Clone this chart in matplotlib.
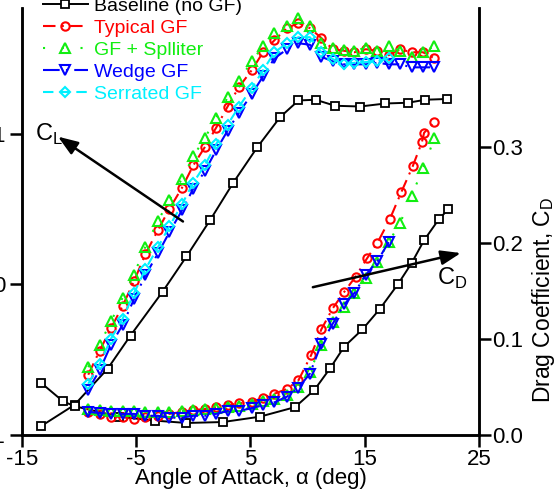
import matplotlib
matplotlib.use('Agg')
import matplotlib.pyplot as plt

plt.rcParams['font.family'] = 'Liberation Sans'
plt.rcParams['mathtext.fontset'] = 'custom'
plt.rcParams['mathtext.rm'] = 'Liberation Sans'
plt.rcParams['axes.unicode_minus'] = False

# baseline airfoil (no gurney flap)
alpha_base = [-13.3, -10.4, -7.5, -5.5, -2.7, -0.6, 1.5, 3.5, 5.6, 7.6, 9.2, 10.7,
              12.4, 14.6, 16.8, 18.8, 20.3, 22.2]
cl_base = [-0.94, -0.80, -0.56, -0.34, -0.05, 0.185, 0.43, 0.675, 0.91, 1.11, 1.22, 1.225,
           1.185, 1.18, 1.20, 1.205, 1.225, 1.23]
alpha_base_cd = [-13.3, -11.4, -10.4, -6.5, -3.4, -0.6, 2.6, 5.8, 8.9, 10.6, 12.0, 13.2,
                 14.8, 16.3, 17.9, 19.1, 20.2, 21.5, 22.3]
cd_base = [0.054, 0.035, 0.030, 0.019, 0.015, 0.0125, 0.0135, 0.019, 0.029, 0.047, 0.070, 0.092,
           0.110, 0.131, 0.157, 0.179, 0.203, 0.225, 0.235]

# gurney flap cases
alpha_gf = [-9.2, -8.2, -7.2, -6.2, -5.2, -4.2, -3.1, -2.1, -1.0, 0.0, 1.0, 2.0, 3.0, 4.0, 5.1,
            6.1, 7.1, 8.2, 9.2, 10.2, 11.2, 12.2, 13.2, 14.1, 15.1, 16.1, 17.1, 18.1, 19.1, 20.1, 21.1]

cl_typical = [-0.60, -0.44, -0.29, -0.145, 0.02, 0.20, 0.36, 0.50, 0.64, 0.79, 0.91, 1.04, 1.18,
              1.31, 1.42, 1.54, 1.62, 1.70, 1.735, 1.70, 1.635, 1.56, 1.55, 1.54, 1.56, 1.55,
              1.52, 1.56, 1.54, 1.54, 1.50]
cl_splitter = [-0.55, -0.40, -0.245, -0.09, 0.065, 0.25, 0.42, 0.56, 0.70, 0.85, 0.97, 1.105,
               1.24, 1.35, 1.48, 1.58, 1.67, 1.715, 1.77, 1.715, 1.60, 1.57, 1.556, 1.55, 1.57,
               1.55, 1.58, 1.55, 1.51, 1.54, 1.58]
cl_wedge = [-0.70, -0.57, -0.40, -0.27, -0.10, 0.06, 0.205, 0.345, 0.49, 0.635, 0.75, 0.89, 1.02,
            1.14, 1.26, 1.38, 1.50, 1.56, 1.60, 1.59, 1.51, 1.48, 1.46, 1.46, 1.46, 1.47, 1.46,
            1.46, 1.44, 1.44, 1.44]
cl_serrated = [-0.66, -0.53, -0.36, -0.23, -0.06, 0.10, 0.245, 0.385, 0.53, 0.675, 0.79, 0.93,
               1.06, 1.18, 1.30, 1.42, 1.54, 1.60, 1.64, 1.64, 1.54, 1.495, 1.46, 1.47, 1.475,
               1.48, 1.50]

alpha_typical_cd = [-9.2, -8.2, -7.2, -6.2, -5.2, -4.2, -3.1, -2.1, -1.0, 0.0, 1.0, 2.0, 3.0, 4.0,
                    5.1, 6.1, 7.1, 8.2, 9.2, 10.3, 11.2, 12.2, 13.2, 14.2, 15.2, 16.1, 17.2, 18.2,
                    19.2, 20.0, 20.2, 21.1]
cd_typical = [0.024, 0.022, 0.019, 0.019, 0.017, 0.019, 0.020, 0.022, 0.024, 0.026, 0.027, 0.029,
              0.031, 0.033, 0.034, 0.039, 0.043, 0.048, 0.057, 0.083, 0.110, 0.132, 0.149, 0.165,
              0.184, 0.200, 0.225, 0.253, 0.280, 0.305, 0.315, 0.326]
cd_splitter = [0.027, 0.026, 0.025, 0.025, 0.025, 0.024, 0.024, 0.024, 0.025, 0.026, 0.027, 0.028,
               0.029, 0.030, 0.032, 0.035, 0.038, 0.042, 0.050, 0.066, 0.094, 0.118, 0.133, 0.148,
               0.164, 0.180, 0.201, 0.221, 0.249, 0.278, 0.309]
cd_wedge = [0.024, 0.023, 0.022, 0.022, 0.022, 0.020, 0.020, 0.018, 0.018, 0.020, 0.020, 0.022,
            0.025, 0.025, 0.028, 0.031, 0.034, 0.040, 0.049, 0.064, 0.095, 0.116, 0.136, 0.148,
            0.167, 0.181, 0.201]

red = '#ff0000'
green = '#11ee11'
blue = '#0000ff'
cyan = '#00f0ff'

fig = plt.figure(figsize=(5.55, 4.92), dpi=100)
ax = fig.add_axes([0.0396, 0.1159, 0.8234, 0.8679])
ax2 = ax.twinx()

# lift curves on the left axis
ax.plot(alpha_base, cl_base, color='k', lw=1.4, marker='s', ms=5.5, mfc='white', mew=1.3,
        label='Baseline (no GF)')
ax.plot(alpha_gf, cl_typical, color=red, lw=1.5, ls=(0, (6, 3, 1, 3)), marker='o', ms=6,
        mfc='none', mew=1.5, label='Typical GF')
ax.plot(alpha_gf, cl_splitter, color=green, lw=1.5, ls=(0, (1, 8)), marker='^', ms=7,
        mfc='none', mew=1.5, label='GF + Splliter')
ax.plot(alpha_gf, cl_wedge, color=blue, lw=1.5, ls=(0, (8, 3, 1, 3)), marker='v', ms=7,
        mfc='none', mew=1.5, label='Wedge GF')
ax.plot(alpha_gf[:len(cl_serrated)], cl_serrated, color=cyan, lw=1.5, ls=(0, (5, 3)),
        marker='D', ms=5.5, mfc='none', mew=1.5, label='Serrated GF')

# drag curves on the right axis
ax2.plot(alpha_base_cd, cd_base, color='k', lw=1.4, marker='s', ms=5.5, mfc='white', mew=1.3)
ax2.plot(alpha_typical_cd, cd_typical, color=red, lw=1.5, ls=(0, (6, 3, 1, 3)), marker='o',
         ms=6, mfc='none', mew=1.5)
ax2.plot(alpha_gf, cd_splitter, color=green, lw=1.5, ls=(0, (1, 8)), marker='^', ms=7,
         mfc='none', mew=1.5)
ax2.plot(alpha_gf[:len(cd_wedge)], cd_wedge, color=blue, lw=1.5, ls=(0, (8, 3, 1, 3)),
         marker='v', ms=7, mfc='none', mew=1.5)

ax.set_xlim(-15, 25)
ax.set_ylim(-1, 1.834)
ax2.set_ylim(0, 0.445)
ax.set_xticks([-15, -5, 5, 15, 25])
ax.set_yticks([-1, 0, 1])
ax2.set_yticks([0.0, 0.1, 0.2, 0.3])
ax2.set_yticklabels(['0.0', '0.1', '0.2', '0.3'])

for a in (ax, ax2):
    a.spines['top'].set_visible(False)
    for s in a.spines.values():
        s.set_linewidth(1.8)
ax.tick_params(direction='out', length=8.5, width=1.8, labelsize=16, pad=1.5)
ax.tick_params(axis='y', pad=3.7)
ax2.tick_params(direction='out', length=8.5, width=1.8, labelsize=16, pad=1)

ax.set_xlabel('Angle of Attack, \u03b1 (deg)', fontsize=16, labelpad=-1)
ax2.set_ylabel(r'Drag Coefficient, C$_\mathregular{D}$', fontsize=16.5)
ax2.yaxis.set_label_coords(1.112, 0.316)

# arrows pointing each family of curves to its axis
arrow = dict(arrowstyle='-|>,head_length=0.6,head_width=0.22', mutation_scale=20, lw=1.8,
             color='k', shrinkA=0, shrinkB=0)
ax.annotate('', xy=(-11.85, 0.98), xytext=(-0.91, 0.417), arrowprops=arrow)
ax.text(-13.9, 0.95, r'C$_\mathregular{L}$', fontsize=17)
ax2.annotate('', xy=(23.41, 0.1896), xytext=(10.46, 0.154), arrowprops=arrow)
ax2.text(21.3, 0.156, r'C$_\mathregular{D}$', fontsize=17)

ax.legend(loc='upper left', bbox_to_anchor=(43 / 555, 1.006), bbox_transform=fig.transFigure,
          frameon=False, fontsize=14, handlelength=2.3, handletextpad=0.3, labelspacing=0.23,
          borderpad=0, borderaxespad=0, labelcolor='linecolor')

fig.savefig('out.png', dpi=100)
